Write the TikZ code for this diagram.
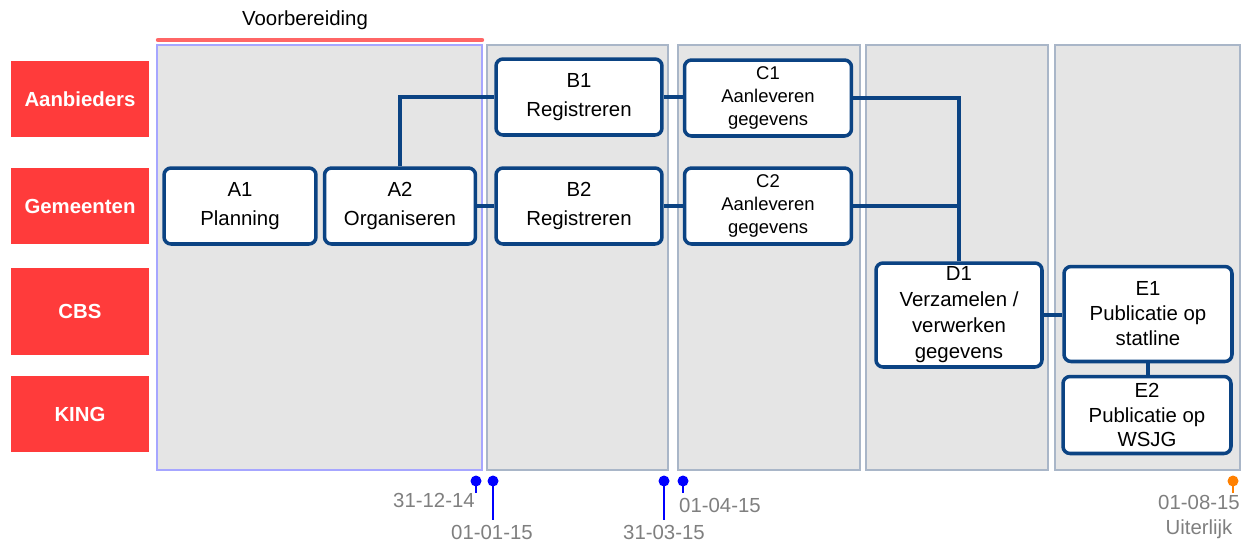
\documentclass[tikz,border=0pt]{standalone}
\usepackage{fontspec}
\setmainfont{Liberation Sans}
\usepackage{tikz}
\definecolor{procblue}{HTML}{0B4383}
\definecolor{lanered}{HTML}{FF3B3B}
\definecolor{panelgrey}{HTML}{E5E5E5}
\definecolor{panelline}{HTML}{A9B6C8}
\definecolor{datetext}{HTML}{7F7F7F}
\tikzset{>=latex}

\begin{document}
\begin{tikzpicture}[x=0.02cm, y=-0.02cm,
    lane/.style={fill=lanered, text=white, font=\fontsize{11.6}{14}\selectfont\bfseries,
        minimum width=2.78cm, minimum height=1.52cm, inner sep=0pt},
    proc/.style={draw=procblue, line width=2pt, rounded corners=4pt, fill=white, align=center,
        minimum width=3.1cm, minimum height=1.52cm, inner sep=1pt,
        font=\fontsize{11.6}{16.5}\selectfont},
    small/.style={font=\fontsize{10.5}{13}\selectfont},
    link/.style={draw=procblue, line width=1.8pt},
    date/.style={text=datetext, font=\fontsize{11.6}{14.2}\selectfont, inner sep=0pt}]
    \useasboundingbox (0, 0) rectangle (1248, 542);
    % phases
    \foreach \xa/\xb in {487/668, 678/860, 866/1048, 1055/1240}
        \draw[panelline, fill=panelgrey, line width=1.2pt] (\xa, 45) rectangle (\xb, 470);
    \draw[draw=blue!35, fill=panelgrey, line width=1.2pt] (157, 45) rectangle (482, 470);
    \draw[red!60, line width=2.5pt, line cap=round] (158, 40) -- (482, 40);
    \node(prep)at(305, 20){\fontsize{11.6}{14}\selectfont Voorbereiding};
    % lanes
    \node[lane](aanb)at(80, 99){Aanbieders};
    \node[lane](gem)at(80, 206){Gemeenten};
    \node[lane, minimum height=1.74cm](cbs)at(80, 311){CBS};
    \node[lane](king)at(80, 414){KING};
    % steps
    \node[proc, minimum width=3.04cm](a1)at(240, 206){A1\\Planning};
    \node[proc, minimum width=3.02cm](a2)at(400, 206){A2\\Organiseren};
    \node[proc, minimum width=3.32cm](b1)at(579, 97){B1\\Registreren};
    \node[proc, minimum width=3.32cm](b2)at(579, 206){B2\\Registreren};
    \node[proc, small, minimum width=3.34cm](c1)at(768, 98){C1\\Aanleveren\\gegevens};
    \node[proc, small, minimum width=3.34cm](c2)at(768, 206){C2\\Aanleveren\\gegevens};
    \node[proc, minimum width=3.32cm, minimum height=2.08cm, font=\fontsize{11.6}{14.8}\selectfont](d1)at(959, 315){D1\\Verzamelen /\\verwerken\\gegevens};
    \node[proc, minimum width=3.36cm, minimum height=1.9cm, font=\fontsize{11.6}{14.2}\selectfont](e1)at(1148, 314){E1\\Publicatie op\\statline};
    \node[proc, minimum width=3.36cm, minimum height=1.54cm, font=\fontsize{11.6}{14.2}\selectfont](e2)at(1147, 415){E2\\Publicatie op\\WSJG};
    % flow
    \draw[link](a2.north)|-(b1.west);
    \draw[link](a2.east)--(b2.west);
    \draw[link](b1.east)--(b1.east-|c1.west);
    \draw[link](b2.east)--(c2.west);
    \draw[link](c1.east)-|(d1.north);
    \draw[link](c2.east)--(c2.east-|d1.north);
    \draw[link](d1.east)--(d1.east-|e1.west);
    \draw[link](e1.south)--(e1.south|-e2.north);
    % milestones
    \foreach \x/\y/\c in {476/493/blue, 493/520/blue, 664/520/blue, 683/493/blue, 1233/493/orange}{
        \draw[\c, line width=1.3pt](\x, 481)--(\x, \y);
        \fill[\c](\x, 481)circle(5.5);
    }
    \node[date](m1)at(434, 500){31-12-14};
    \node[date](m2)at(492, 532){01-01-15};
    \node[date](m3)at(664, 532){31-03-15};
    \node[date](m4)at(720, 505){01-04-15};
    \node[date, align=center](m5)at(1199, 517){01-08-15\\Uiterlijk};
\end{tikzpicture}
\end{document}
